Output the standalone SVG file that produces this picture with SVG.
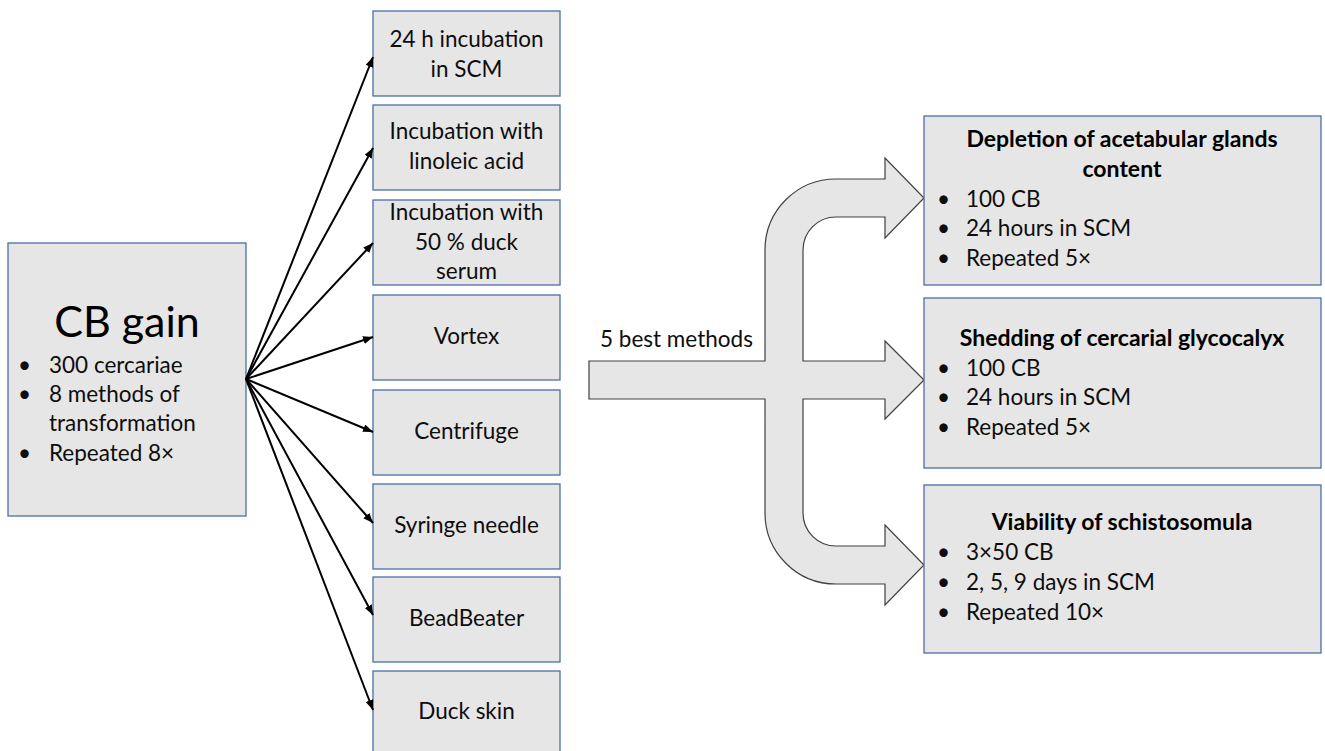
<svg xmlns="http://www.w3.org/2000/svg" width="1325" height="751" viewBox="0 0 1325 751">
<style>
.box{fill:#e7e6e6;stroke:#4a6eaa;stroke-width:1.3}
.t{font-family:Lato,"Liberation Sans",sans-serif;font-size:22.5px;fill:#0d0d0d}
.c{text-anchor:middle}
.b{font-weight:bold;fill:#000;font-size:23px}
.big{font-size:43px;fill:#000}
.conn{stroke:#000;stroke-width:2;fill:none;marker-end:url(#ah)}
.flow{fill:#e7e6e6;stroke:#404040;stroke-width:1.2}
</style>
<defs>
<marker id="ah" markerUnits="userSpaceOnUse" markerWidth="12" markerHeight="10" refX="10" refY="4" orient="auto">
<path d="M0,0 L10,4 L0,8 z" fill="#000"/>
</marker>
</defs>
<rect width="1325" height="751" fill="#fff"/>

<g id="cb-gain">
<rect class="box" x="8" y="243" width="238" height="273"/>
<text class="t c big" x="127" y="337">CB gain</text>
<text class="t" x="18" y="373">•</text><text class="t" x="49" y="373">300 cercariae</text>
<text class="t" x="18" y="402">•</text><text class="t" x="49" y="402">8 methods of</text>
<text class="t" x="49" y="431">transformation</text>
<text class="t" x="18" y="461">•</text><text class="t" x="49" y="461">Repeated 8×</text>
</g>

<g id="m1"><rect class="box" x="373" y="11" width="187" height="85"/>
<text class="t c" x="466.5" y="47">24 h incubation</text><text class="t c" x="466.5" y="77">in SCM</text></g>
<g id="m2"><rect class="box" x="373" y="105" width="187" height="85"/>
<text class="t c" x="466.5" y="139">Incubation with</text><text class="t c" x="466.5" y="169">linoleic acid</text></g>
<g id="m3"><rect class="box" x="373" y="200" width="187" height="85"/>
<text class="t c" x="466.5" y="220">Incubation with</text><text class="t c" x="466.5" y="250">50 % duck</text><text class="t c" x="466.5" y="279">serum</text></g>
<g id="m4"><rect class="box" x="373" y="295" width="187" height="85"/>
<text class="t c" x="466.5" y="344">Vortex</text></g>
<g id="m5"><rect class="box" x="373" y="390" width="187" height="85"/>
<text class="t c" x="466.5" y="439">Centrifuge</text></g>
<g id="m6"><rect class="box" x="373" y="484" width="187" height="85"/>
<text class="t c" x="466.5" y="533">Syringe needle</text></g>
<g id="m7"><rect class="box" x="373" y="577" width="187" height="85"/>
<text class="t c" x="466.5" y="626">BeadBeater</text></g>
<g id="m8"><rect class="box" x="373" y="671" width="187" height="85"/>
<text class="t c" x="466.5" y="719">Duck skin</text></g>

<g id="connectors">
<line class="conn" x1="246" y1="379" x2="373" y2="57"/>
<line class="conn" x1="246" y1="379" x2="373" y2="148"/>
<line class="conn" x1="246" y1="379" x2="373" y2="243"/>
<line class="conn" x1="246" y1="379" x2="373" y2="337"/>
<line class="conn" x1="246" y1="379" x2="373" y2="432"/>
<line class="conn" x1="246" y1="379" x2="373" y2="523"/>
<line class="conn" x1="246" y1="379" x2="373" y2="615"/>
<line class="conn" x1="246" y1="379" x2="373" y2="710"/>
</g>

<g id="best-methods">
<path class="flow" d="M589 361 L765 361 L765 250 A71 71 0 0 1 836 179 L885 179 L885 158 L924 198 L885 238 L885 217 L836 217 A33 33 0 0 0 803 250 L803 361 L885 361 L885 341 L924 380 L885 419 L885 399 L803 399 L803 513 A33 33 0 0 0 836 546 L885 546 L885 525 L924 565 L885 605 L885 584 L836 584 A71 71 0 0 1 765 513 L765 399 L589 399 Z"/>
<text class="t" x="600" y="347">5 best methods</text>
</g>

<g id="depletion">
<rect class="box" x="924" y="116" width="397" height="169"/>
<text class="t c b" x="1122" y="147">Depletion of acetabular glands</text>
<text class="t c b" x="1122" y="177">content</text>
<text class="t" x="937" y="207">•</text><text class="t" x="966" y="207">100 CB</text>
<text class="t" x="937" y="236">•</text><text class="t" x="966" y="236">24 hours in SCM</text>
<text class="t" x="937" y="266">•</text><text class="t" x="966" y="266">Repeated 5×</text>
</g>

<g id="shedding">
<rect class="box" x="924" y="298" width="397" height="170"/>
<text class="t c b" x="1122" y="346">Shedding of cercarial glycocalyx</text>
<text class="t" x="937" y="376">•</text><text class="t" x="966" y="376">100 CB</text>
<text class="t" x="937" y="405">•</text><text class="t" x="966" y="405">24 hours in SCM</text>
<text class="t" x="937" y="435">•</text><text class="t" x="966" y="435">Repeated 5×</text>
</g>

<g id="viability">
<rect class="box" x="924" y="485" width="397" height="168"/>
<text class="t c b" x="1122" y="530">Viability of schistosomula</text>
<text class="t" x="937" y="560">•</text><text class="t" x="966" y="560">3×50 CB</text>
<text class="t" x="937" y="590">•</text><text class="t" x="966" y="590">2, 5, 9 days in SCM</text>
<text class="t" x="937" y="620">•</text><text class="t" x="966" y="620">Repeated 10×</text>
</g>
</svg>
